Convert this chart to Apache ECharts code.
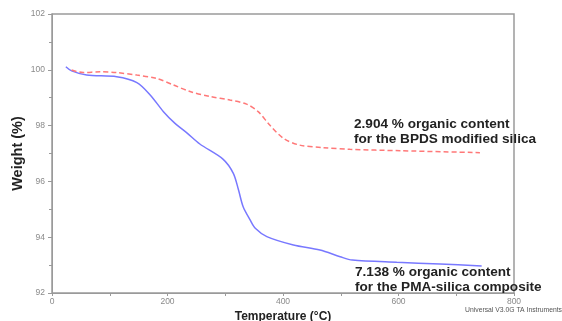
<!DOCTYPE html>
<html>
<head>
<meta charset="utf-8">
<script src="https://cdn.jsdelivr.net/npm/echarts@6/dist/echarts.min.js"></script>
<style>html,body{margin:0;padding:0;background:#fff}#c{width:562px;height:321px}</style>
</head>
<body>
<div id="c"></div>
<script>
// PMA-silica composite (solid blue)
var pmaTemp   = [24, 34, 60, 112, 147, 170, 193, 213, 233, 256, 296, 314, 323, 331, 343, 352, 372, 418, 464, 499, 520, 597, 672, 744];
var pmaWeight = [100.11, 99.96, 99.81, 99.75, 99.54, 99.10, 98.50, 98.08, 97.75, 97.34, 96.80, 96.29, 95.69, 95.09, 94.62, 94.32, 94.02, 93.72, 93.54, 93.30, 93.18, 93.10, 93.04, 92.97];
// BPDS modified silica (dashed red)
var bpdsTemp   = [34, 54, 83, 112, 147, 181, 210, 239, 274, 308, 337, 357, 377, 401, 429, 470, 516, 603, 741];
var bpdsWeight = [99.99, 99.90, 99.93, 99.90, 99.81, 99.69, 99.46, 99.22, 99.04, 98.92, 98.77, 98.50, 98.02, 97.54, 97.30, 97.21, 97.15, 97.10, 97.03];

var xTicks = [0, 200, 400, 600, 800];
var yTicks = [92, 94, 96, 98, 100, 102];
var noteBpds = ['2.904 % organic content', 'for the BPDS modified silica'];
var notePma  = ['7.138 % organic content', 'for the PMA-silica composite'];
var footer = 'Universal V3.0G TA Instruments';

function pairs(a, b) { return a.map(function (v, i) { return [v, b[i]]; }); }

var chart = echarts.init(document.getElementById('c'), null, {renderer: 'canvas'});
var axisGray = '#9a9a9a';
var labelStyle = {color: '#8a8a8a', fontSize: 8.5, fontFamily: 'Liberation Sans, Arial, sans-serif'};
chart.setOption({
  animation: false,
  backgroundColor: '#fff',
  grid: {left: 52, right: 48, top: 14, bottom: 28, containLabel: false, outerBoundsMode: 'none',
         show: true, borderColor: axisGray, borderWidth: 1.5},
  xAxis: {
    type: 'value', min: xTicks[0], max: xTicks[xTicks.length - 1], interval: 200,
    name: 'Temperature (°C)', nameLocation: 'middle', nameGap: 18, nameMoveOverlap: false,
    nameTextStyle: {fontSize: 12, fontWeight: 'bold', color: '#222', fontFamily: 'Liberation Sans, Arial, sans-serif'},
    axisLine: {lineStyle: {color: axisGray}},
    axisTick: {show: true, inside: false, length: 3, lineStyle: {color: axisGray}},
    minorTick: {show: true, splitNumber: 2, length: 3, lineStyle: {color: axisGray}},
    splitLine: {show: false},
    axisLabel: Object.assign({margin: 4}, labelStyle)
  },
  yAxis: {
    type: 'value', min: yTicks[0], max: yTicks[yTicks.length - 1], interval: 2,
    name: 'Weight (%)', nameLocation: 'middle', nameGap: 27, nameMoveOverlap: false,
    nameTextStyle: {fontSize: 14.5, fontWeight: 'bold', color: '#222', fontFamily: 'Liberation Sans, Arial, sans-serif'},
    axisLine: {show: true, lineStyle: {color: axisGray}},
    axisTick: {show: true, length: 4, lineStyle: {color: axisGray}},
    minorTick: {show: true, splitNumber: 2, length: 3, lineStyle: {color: axisGray}},
    splitLine: {show: false},
    axisLabel: Object.assign({margin: 7}, labelStyle)
  },
  series: [
    {type: 'line', name: 'PMA', data: pairs(pmaTemp, pmaWeight), smooth: 0.3, showSymbol: false,
     lineStyle: {color: '#7878ff', width: 1.5}},
    {type: 'line', name: 'BPDS', data: pairs(bpdsTemp, bpdsWeight), smooth: 0.3, showSymbol: false,
     lineStyle: {color: '#ff7878', width: 1.5, type: [5, 3]}}
  ],
  graphic: [
    {type: 'text', left: 354, top: 117, style: {text: noteBpds.join('\n'), font: 'bold 13.6px "Liberation Sans", Arial, sans-serif', fill: '#222', lineHeight: 15}},
    {type: 'text', left: 355, top: 265, style: {text: notePma.join('\n'), font: 'bold 13.6px "Liberation Sans", Arial, sans-serif', fill: '#222', lineHeight: 15}},
    {type: 'text', right: 0, top: 307, style: {text: footer, font: '6.8px "Liberation Sans", Arial, sans-serif', fill: '#555'}}
  ]
});
</script>
</body>
</html>
